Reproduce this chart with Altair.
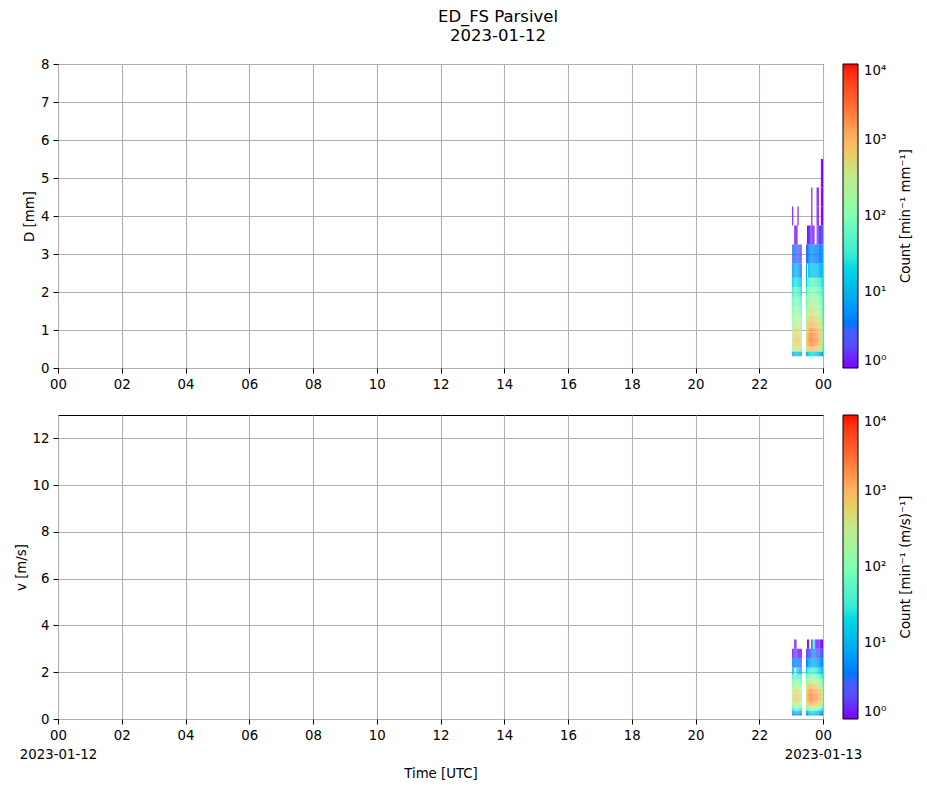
import altair as alt
import pandas as pd

FONT = "DejaVu Sans"

title_lines = ["ED_FS Parsivel", "2023-01-12"]
date_start = "2023-01-12"
date_end = "2023-01-13"
x_title = "Time [UTC]"
d_title = "D [mm]"
v_title = "v [m/s]"
d_cbar_title = "Count [min\u207b\u00b9 mm\u207b\u00b9]"
v_cbar_title = "Count [min\u207b\u00b9 (m/s)\u207b\u00b9]"

x_ticks = [0, 2, 4, 6, 8, 10, 12, 14, 16, 18, 20, 22, 24]
d_ticks = [0, 1, 2, 3, 4, 5, 6, 7, 8]
v_ticks = [0, 2, 4, 6, 8, 10, 12]
d_domain = [0, 8]
v_domain = [0, 13]

cbar_values = [1, 10, 100, 1000, 10000]
cmap_stops = [1, 3.1623, 10, 31.623, 100, 316.23, 1000, 3162.3, 10000]
cmap_colors = ["#8000ff", "#4062fa", "#00b4ec", "#40ecd4", "#80ffb4",
               "#bfec8e", "#ffb462", "#ff6232", "#ff0000"]

# 2-minute sampling columns (start times)
col_times = ["23:02", "23:04", "23:06", "23:08", "23:10", "23:12", "23:14", "23:16", "23:18",
             "23:28", "23:30", "23:32", "23:34", "23:36", "23:38", "23:40", "23:42",
             "23:44", "23:46", "23:48", "23:50", "23:52", "23:54", "23:56", "23:58"]
col_minutes = 2

# Parsivel class values (cell i spans class i .. class i+1)
d_classes = [0.312, 0.437, 0.562, 0.687, 0.812, 0.937, 1.062, 1.187, 1.375, 1.625,
             1.875, 2.125, 2.375, 2.75, 3.25, 3.75, 4.25, 4.75, 5.5]
v_classes = [0.15, 0.25, 0.35, 0.45, 0.55, 0.65, 0.75, 0.85, 0.95, 1.1, 1.3, 1.5,
             1.7, 1.9, 2.2, 2.6, 3.0, 3.4]

# counts per column (one list per time column, bottom class first)
d_counts = [
    [8, 150, 250, 300, 250, 200, 150, 120, 80, 50, 30, 15, 6, 3, 0, 1, 0, 0],
    [10, 250, 400, 500, 400, 300, 250, 200, 120, 80, 40, 20, 8, 3, 0, 0, 0, 0],
    [12, 300, 500, 600, 500, 400, 300, 250, 150, 100, 50, 25, 10, 4, 1, 0, 0, 0],
    [15, 350, 600, 700, 600, 450, 350, 250, 150, 100, 60, 30, 10, 4, 1, 0, 0, 0],
    [12, 400, 700, 800, 600, 450, 350, 250, 150, 90, 50, 25, 8, 3, 1, 0, 0, 0],
    [10, 300, 600, 700, 600, 400, 300, 200, 120, 80, 40, 20, 8, 3, 0, 1, 0, 0],
    [12, 350, 600, 600, 500, 400, 300, 200, 120, 70, 40, 20, 7, 2, 0, 0, 0, 0],
    [10, 250, 450, 500, 400, 300, 200, 150, 100, 60, 30, 15, 5, 2, 0, 0, 0, 0],
    [8, 150, 250, 300, 250, 200, 150, 100, 60, 40, 20, 10, 4, 2, 0, 0, 0, 0],
    [10, 200, 400, 500, 400, 300, 250, 200, 120, 80, 40, 20, 8, 3, 0, 0, 0, 0],
    [15, 400, 800, 1000, 900, 700, 500, 400, 250, 150, 80, 40, 0, 4, 1, 0, 0, 0],
    [20, 600, 1200, 1500, 1300, 1000, 700, 500, 300, 180, 100, 50, 12, 5, 1, 0, 0, 0],
    [20, 800, 1500, 2000, 1800, 1300, 900, 600, 350, 200, 100, 50, 14, 6, 1, 0, 0, 0],
    [25, 900, 1800, 2200, 2000, 1500, 1000, 700, 400, 220, 120, 60, 15, 6, 2, 0, 0, 0],
    [25, 1000, 2000, 2500, 2200, 1600, 1100, 700, 400, 220, 120, 60, 15, 6, 2, 1, 1, 0],
    [20, 900, 1800, 2200, 2000, 1500, 1000, 700, 400, 200, 110, 50, 14, 5, 1, 0, 0, 0],
    [20, 800, 1600, 2000, 1800, 1300, 900, 600, 350, 200, 100, 50, 12, 5, 1, 0, 0, 0],
    [18, 700, 1400, 1800, 1600, 1200, 800, 550, 300, 180, 90, 45, 12, 4, 0, 0, 0, 0],
    [18, 700, 1300, 1700, 1500, 1100, 800, 500, 300, 170, 90, 45, 12, 4, 0, 0, 0, 0],
    [15, 600, 1200, 1500, 1300, 1000, 700, 500, 280, 160, 80, 40, 12, 4, 2, 1, 1, 0],
    [15, 500, 1000, 1300, 1200, 900, 600, 450, 250, 150, 80, 40, 12, 5, 2, 1, 1, 0],
    [12, 400, 800, 1000, 900, 700, 500, 400, 220, 130, 70, 35, 10, 4, 1, 0, 0, 0],
    [12, 300, 600, 800, 700, 600, 450, 350, 200, 120, 70, 35, 10, 4, 1, 0, 0, 0],
    [10, 200, 400, 500, 450, 400, 300, 250, 150, 100, 60, 30, 10, 5, 2, 1, 1, 1],
    [8, 60, 100, 120, 120, 100, 90, 80, 60, 50, 40, 25, 15, 8, 3, 1, 1, 1],
]

v_counts = [
    [3, 8, 20, 60, 120, 200, 250, 300, 300, 250, 150, 80, 40, 12, 4, 1, 0],
    [5, 10, 30, 80, 180, 300, 400, 450, 450, 350, 200, 100, 50, 15, 5, 2, 0],
    [5, 12, 40, 100, 220, 400, 550, 600, 600, 450, 250, 120, 60, 0, 4, 2, 1],
    [6, 15, 50, 120, 250, 450, 650, 700, 700, 500, 300, 150, 60, 0, 4, 2, 1],
    [6, 15, 50, 120, 250, 450, 650, 700, 650, 500, 300, 150, 60, 20, 5, 2, 0],
    [5, 12, 40, 100, 220, 400, 550, 600, 600, 450, 250, 120, 50, 15, 4, 1, 0],
    [5, 12, 40, 100, 200, 380, 500, 550, 550, 400, 220, 110, 50, 15, 4, 1, 0],
    [4, 10, 30, 80, 160, 280, 380, 420, 400, 300, 170, 90, 40, 12, 3, 1, 0],
    [3, 8, 20, 50, 100, 180, 250, 280, 260, 200, 120, 60, 30, 10, 3, 1, 0],
    [4, 10, 40, 100, 200, 350, 450, 500, 500, 400, 250, 120, 60, 20, 5, 2, 0],
    [6, 15, 60, 180, 400, 700, 900, 1000, 1000, 800, 450, 220, 100, 30, 6, 2, 1],
    [8, 20, 80, 250, 600, 1000, 1400, 1500, 1500, 1100, 600, 280, 120, 35, 8, 2, 1],
    [10, 25, 100, 300, 700, 1300, 1800, 2000, 1900, 1400, 700, 300, 130, 40, 8, 3, 0],
    [10, 25, 110, 350, 800, 1500, 2000, 2200, 2100, 1500, 750, 320, 140, 40, 8, 2, 0],
    [10, 25, 110, 350, 800, 1500, 2100, 2300, 2200, 1500, 750, 320, 140, 40, 8, 3, 1],
    [10, 25, 100, 330, 750, 1400, 2000, 2100, 2000, 1400, 700, 300, 130, 40, 10, 8, 8],
    [9, 22, 90, 300, 700, 1300, 1800, 1900, 1800, 1300, 650, 280, 120, 35, 8, 2, 0],
    [8, 20, 80, 280, 650, 1200, 1600, 1700, 1600, 1200, 600, 260, 110, 35, 10, 8, 8],
    [8, 20, 80, 260, 600, 1100, 1500, 1600, 1500, 1100, 550, 240, 100, 30, 6, 2, 1],
    [7, 18, 70, 230, 520, 950, 1300, 1400, 1300, 950, 500, 220, 90, 30, 8, 3, 1],
    [6, 16, 60, 200, 450, 800, 1100, 1200, 1100, 800, 420, 190, 80, 25, 6, 2, 1],
    [6, 15, 50, 160, 380, 650, 900, 950, 900, 650, 350, 160, 70, 22, 8, 6, 6],
    [5, 12, 40, 130, 300, 500, 700, 750, 700, 520, 280, 130, 60, 20, 5, 2, 1],
    [4, 10, 30, 100, 220, 380, 500, 550, 500, 380, 220, 110, 50, 18, 5, 2, 1],
    [3, 8, 20, 60, 120, 200, 260, 280, 260, 200, 130, 70, 35, 15, 6, 3, 1],
]


def to_hours(s):
    h, m = s.split(":")
    return int(h) + int(m) / 60.0


def build(classes, counts):
    recs = []
    for t, col in zip(col_times, counts):
        t0 = to_hours(t)
        t1 = t0 + col_minutes / 60.0
        for j, c in enumerate(col):
            if c > 0:
                recs.append({"t0": t0, "t1": t1, "lo": classes[j],
                             "hi": classes[j + 1], "count": c})
    return pd.DataFrame(recs)


d_df = build(d_classes, d_counts)
v_df = build(v_classes, v_counts)

W, H = 765, 304
LBL = 13.3

hour_expr = "(datum.value == 24 ? '00' : (datum.value < 10 ? '0' + datum.value : '' + datum.value))"
bottom_expr = ("datum.value == 0 ? ['00', '%s'] : datum.value == 24 ? ['00', '%s'] : %s"
               % (date_start, date_end, hour_expr))

sup = {1: "10\u2070", 10: "10\u00b9", 100: "10\u00b2", 1000: "10\u00b3", 10000: "10\u2074"}
legend_expr = ("datum.value >= 10000 ? '%s' : datum.value >= 1000 ? '%s' : datum.value >= 100 ? '%s' : "
               "datum.value >= 10 ? '%s' : '%s'" % (sup[10000], sup[1000], sup[100], sup[10], sup[1]))


def panel(df, ytitle, ydomain, yticks, cbar_title, bottom):
    xaxis_kw = dict(values=x_ticks, labelFlush=False, labelOverlap=False,
                    labelExpr=bottom_expr if bottom else hour_expr,
                    labelLineHeight=19, titlePadding=6)
    if bottom:
        xaxis_kw["title"] = x_title
    else:
        xaxis_kw["title"] = None
    heat = alt.Chart(df).mark_rect(strokeWidth=0).encode(
        x=alt.X("t0:Q", scale=alt.Scale(domain=[0, 24], nice=False, zero=False),
                axis=alt.Axis(**xaxis_kw)),
        x2="t1:Q",
        y=alt.Y("lo:Q", scale=alt.Scale(domain=ydomain, nice=False, zero=False),
                axis=alt.Axis(values=yticks, title=ytitle, labelFlush=False,
                              labelOverlap=False, titlePadding=4)),
        y2="hi:Q",
        color=alt.Color("count:Q",
                        scale=alt.Scale(type="log", domain=cmap_stops, range=cmap_colors,
                                        clamp=True),
                        legend=alt.Legend(orient="none", legendX=W + 20, legendY=0,
                                          direction="vertical", title=None,
                                          gradientLength=H, gradientThickness=15,
                                          gradientStrokeColor="black", gradientStrokeWidth=1,
                                          values=cbar_values, labelExpr=legend_expr,
                                          labelFontSize=LBL, labelColor="black",
                                          labelOffset=6, labelFont=FONT)),
    )
    cbar_txt = alt.Chart(pd.DataFrame({"label": [cbar_title]})).mark_text(
        angle=270, fontSize=LBL, font=FONT, color="black", baseline="middle", align="center"
    ).encode(text="label:N", x=alt.value(W + 83), y=alt.value(H / 2))
    layers = [heat, cbar_txt]
    if not bottom:
        t1 = alt.Chart(pd.DataFrame({"label": [title_lines[0]]})).mark_text(
            fontSize=16.5, font=FONT, color="black", baseline="middle", align="center"
        ).encode(text="label:N", x=alt.value(440), y=alt.value(-47))
        t2 = alt.Chart(pd.DataFrame({"label": [title_lines[1]]})).mark_text(
            fontSize=16.5, font=FONT, color="black", baseline="middle", align="center"
        ).encode(text="label:N", x=alt.value(440), y=alt.value(-28))
        layers += [t1, t2]
    return alt.layer(*layers).properties(width=W, height=H)


top = panel(d_df, d_title, d_domain, d_ticks, d_cbar_title, False)
bot = panel(v_df, v_title, v_domain, v_ticks, v_cbar_title, True)

chart = alt.vconcat(top, bot, spacing=23).resolve_scale(color="independent").properties(
    padding={"left": 5, "top": 0, "right": 5, "bottom": 5}
).configure(font=FONT).configure_view(
    stroke="black", strokeWidth=1
).configure_axis(
    grid=True, gridColor="#b0b0b0", gridWidth=1.1, domain=False,
    tickColor="black", tickSize=5, tickWidth=1,
    labelFontSize=LBL, labelColor="black", labelFont=FONT, labelPadding=4,
    titleFontSize=LBL, titleColor="black", titleFont=FONT, titleFontWeight="normal",
    zindex=1
)

chart.save("out.html", embed_options={"renderer": "svg", "actions": False})
